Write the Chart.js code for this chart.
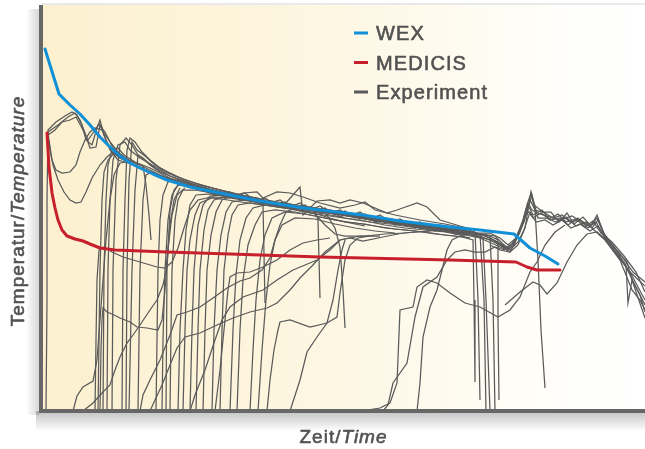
<!DOCTYPE html>
<html>
<head>
<meta charset="utf-8">
<script src="https://cdn.jsdelivr.net/npm/chart.js@4.4.1/dist/chart.umd.min.js"></script>
<style>
  html, body { margin: 0; padding: 0; background: #fff; }
  #wrap { width: 645px; height: 449px; position: relative; }
</style>
</head>
<body>
<div id="wrap"><canvas id="chart"></canvas></div>
<script>
// Time and temperature in arbitrary units: [time, temperature]
const wexCurve = [[3,362],[17,317],[28,306],[38,297],[48,286],[58,274],[68,264],[78,255],[88,248],[98,243],[111,237],[125,231],[148,224],[178,218],[198,214],[218,210],[255,204],[278,201],[321,196],[358,190],[408,184],[438,181],[472,177],[488,163],[503,155],[516,147]];

const medicisCurve = [[5,278],[6,261],[7,244],[10,218],[13,203],[16,191],[20,181],[25,175],[33,172],[41,170],[48,167],[58,163],[73,161],[125,159],[188,157],[278,154],[408,151],[474,149],[485,144],[495,141],[518,141]];

// Measured runs, one array per thermocouple record
const experimentRuns = [
  [[4,0],[5,111],[5,211],[6,281],[14,289],[23,295],[30,299],[35,296],[40,286],[44,271],[50,266],[55,283],[58,291],[62,276],[68,261],[76,251],[86,248],[98,243],[113,237],[128,231],[148,225],[168,221],[178,216],[188,219],[198,212],[208,214],[218,207],[228,210],[238,204],[248,207],[258,200],[268,204],[278,198],[288,201],[298,194],[308,198],[318,192],[328,195],[338,189],[348,192],[358,186],[368,189],[378,183],[388,186],[398,180],[408,183],[418,177],[428,180],[443,175],[455,169],[463,163],[470,167],[476,175],[482,189],[488,211],[493,201],[503,198],[511,193],[520,196],[528,189],[538,191],[548,185],[555,193],[561,179],[573,163],[583,146],[593,126],[603,106]],
  [[6,279],[16,286],[26,294],[33,298],[38,291],[43,278],[48,263],[54,264],[58,286],[64,271],[70,259],[78,253],[93,246],[108,239],[128,230],[158,221],[198,212],[238,205],[278,199],[318,193],[358,187],[398,182],[438,175],[458,167],[466,162],[473,171],[480,186],[486,206],[491,196],[500,201],[508,191],[518,193],[526,186],[536,193],[546,183],[554,189],[562,175],[576,156],[584,146],[586,108],[590,131],[598,116],[603,99]],
  [[6,276],[13,281],[20,289],[28,291],[34,294],[40,283],[46,271],[53,281],[57,287],[63,279],[71,263],[83,251],[98,244],[118,235],[143,226],[173,218],[208,211],[248,204],[288,198],[328,191],[368,185],[408,179],[438,173],[456,165],[465,161],[472,166],[478,181],[485,199],[490,216],[496,193],[504,193],[514,189],[524,194],[534,185],[544,189],[552,181],[563,171],[578,151],[590,121],[598,111],[603,101]],
  [[6,279],[8,261],[11,246],[16,231],[22,219],[28,211],[34,208],[39,209],[44,219],[50,233],[58,246],[65,254],[71,259],[78,253],[88,248],[103,241],[118,234],[138,227],[158,221],[188,213],[218,208],[248,203],[268,199],[288,193],[303,189],[323,187],[343,183],[363,181],[383,179],[403,176],[420,174],[431,171],[432,111],[433,29]],
  [[7,271],[10,251],[14,241],[20,238],[28,239],[34,246],[38,259],[43,271],[48,279],[53,283],[60,281],[68,269],[76,259],[86,251],[95,247],[101,245],[104,226],[107,196],[109,171]],
  [[56,0],[57,71],[58,141],[60,211],[62,239],[66,251],[73,259],[83,253],[98,246],[118,236],[143,227],[173,219],[208,212],[248,205],[288,199],[328,193],[368,187],[408,182],[438,177],[448,175],[451,111],[453,0]],
  [[61,0],[62,141],[64,211],[66,246],[70,261],[76,263],[82,256],[93,249],[108,243],[128,233],[153,225],[183,217],[218,210],[258,203],[298,197],[338,191],[378,185],[418,180],[438,177],[442,111],[444,0]],
  [[65,0],[66,141],[68,211],[71,251],[76,266],[83,269],[88,261],[98,253],[110,246],[123,239],[138,233],[158,226],[183,220],[213,213],[248,207],[288,201],[328,195],[368,189],[408,183],[433,179],[436,111],[438,11]],
  [[70,0],[71,141],[74,231],[78,266],[84,273],[90,266],[96,256],[103,251],[113,243],[128,235],[148,228],[168,222],[193,216],[223,210],[258,204],[273,201],[276,191],[278,113]],
  [[80,0],[81,141],[83,211],[85,261],[88,273],[93,269],[100,259],[108,251],[118,243],[133,235],[153,228],[178,221],[203,215],[216,213],[221,206],[223,108]],
  [[84,0],[85,141],[87,231],[90,269],[95,261],[103,255],[113,246],[126,239],[143,231],[163,225],[188,218],[218,212],[228,208],[238,211],[248,204],[258,208],[268,201],[278,205],[288,198],[298,201],[308,195],[318,199],[328,192],[338,196],[348,189],[358,192],[368,186],[378,189],[388,183],[398,186],[408,180],[418,183],[428,178],[448,178],[458,173],[466,166],[474,173],[481,191],[486,208],[490,201],[498,197],[508,194],[518,191],[530,195],[540,189],[550,183],[556,191],[564,173],[578,157],[591,139],[603,129]],
  [[87,0],[90,141],[93,221],[96,256],[101,253],[108,246],[118,239],[133,233],[153,226],[178,219],[208,213],[238,207],[268,203],[298,198],[313,196],[328,191],[348,189],[368,185],[388,181],[408,179],[428,176],[441,173],[444,111],[448,0]],
  [[96,0],[98,141],[101,211],[104,236],[110,239],[118,236],[130,231],[148,225],[173,219],[203,213],[233,208],[263,203],[293,199],[323,194],[353,190],[383,186],[413,182],[433,178],[453,175],[461,167],[468,161],[476,169],[483,183],[489,219],[492,206],[501,199],[509,199],[517,189],[525,198],[532,187],[541,194],[549,185],[555,196],[562,177],[574,161],[585,149],[590,131],[603,93]],
  [[448,166],[458,161],[468,159],[478,179],[485,206],[489,218],[493,201],[496,151],[499,81],[503,23]],
  [[114,0],[115,71],[116,141],[118,191],[121,216],[126,229],[136,231],[153,225],[173,220],[198,214],[226,209]],
  [[120,0],[121,71],[123,141],[126,191],[130,216],[136,226],[148,224],[163,221],[183,216],[208,211],[233,207],[258,203],[283,199],[293,183],[298,164],[301,121],[303,83]],
  [[124,0],[125,141],[128,201],[132,221],[138,228],[150,225],[168,220],[193,214],[203,218],[213,210],[223,213],[233,206],[243,209],[253,202],[263,206],[273,199],[283,203],[293,196],[303,200],[313,193],[323,197],[333,189],[343,193],[353,186],[363,190],[373,183],[383,187],[393,180],[403,184],[413,177],[428,180],[446,174],[458,168],[465,163],[472,168],[479,183],[485,201],[491,193],[499,198],[507,192],[516,197],[524,189],[534,192],[543,184],[551,190],[559,178],[570,169],[582,155],[594,139],[603,119]],
  [[128,0],[129,81],[130,141],[133,191],[136,211],[141,221],[153,221],[170,218],[198,213],[226,208],[258,203],[288,198],[318,193],[348,188],[378,184],[408,180],[430,177],[448,175],[456,171],[456,91],[457,11]],
  [[136,0],[138,81],[141,141],[144,181],[148,206],[154,216],[168,217],[186,214],[213,210],[243,205],[273,201],[303,196],[333,192],[363,187],[393,183],[423,178],[448,171],[461,164],[468,159],[476,166],[482,181],[488,199],[494,189],[503,191],[511,186],[520,191],[529,183],[538,187],[548,180],[556,185],[564,171],[576,155],[588,139],[603,111]],
  [[141,0],[143,81],[145,141],[148,171],[153,196],[158,208],[170,213],[186,211],[206,208],[230,205],[256,201],[273,197],[283,186],[293,177],[303,175],[323,175],[343,177],[363,178],[386,180],[406,181],[428,177]],
  [[148,0],[150,81],[152,141],[156,186],[161,206],[168,215],[180,216],[198,214],[220,210],[243,206],[263,204],[283,200],[308,196],[333,192],[356,189],[378,186],[403,183],[426,179]],
  [[154,0],[156,81],[158,141],[162,181],[166,201],[172,211],[183,214],[203,212],[228,208],[250,205],[273,202],[293,199],[313,195],[338,191],[363,188],[388,184],[413,181],[428,178]],
  [[161,0],[163,81],[165,141],[169,176],[174,199],[180,211],[190,215],[201,218],[215,219],[221,213],[235,219],[248,218],[261,214],[278,208],[298,203],[313,206],[323,209],[333,201],[353,196],[378,191],[403,187],[423,183]],
  [[170,0],[172,81],[175,141],[179,176],[184,199],[190,209],[203,211],[220,208],[243,207],[258,224],[261,196],[275,210],[288,211],[298,208],[308,211],[321,208],[345,198],[355,201],[375,208],[385,204],[398,191],[418,185],[433,181]],
  [[178,0],[180,81],[182,141],[186,176],[190,196],[196,206],[208,208],[228,205],[248,202],[268,198],[288,195],[308,192],[328,189],[348,187],[368,184],[388,182],[408,179],[426,176]],
  [[188,0],[191,81],[194,136],[198,171],[204,193],[211,203],[223,206],[243,203],[263,200],[283,197],[303,193],[323,190],[343,186],[363,183],[383,181],[403,179],[423,175]],
  [[195,0],[198,81],[201,131],[206,166],[213,186],[220,199],[233,201],[253,199],[273,195],[293,191],[313,188],[333,185],[353,182],[373,180],[393,177],[413,175],[428,173]],
  [[208,0],[211,61],[214,111],[218,151],[223,176],[230,193],[243,199],[263,197],[283,193],[303,189],[323,185]],
  [[216,0],[220,61],[224,111],[228,146],[233,171],[240,186],[253,193],[273,192],[293,187],[313,183],[333,180],[353,178]],
  [[53,0],[54,71],[55,131],[57,161],[62,164],[70,159],[81,154],[98,149],[115,144],[123,143],[130,149],[136,163],[142,183],[148,201],[156,211],[170,214],[188,213]],
  [[31,0],[35,15],[41,24],[51,30],[55,51],[58,91],[61,131],[64,171],[68,211],[72,236],[78,248],[86,249]],
  [[41,0],[51,8],[61,19],[68,26],[73,41],[78,54],[85,68],[91,76],[98,86],[108,101],[115,111],[121,126],[124,141],[127,171],[130,196],[135,216],[143,223]],
  [[58,0],[59,61],[60,91],[61,103],[65,99],[70,97],[78,93],[88,89],[95,84],[105,83],[116,81],[120,91],[123,121],[126,161],[128,186],[132,211],[138,223]],
  [[98,0],[101,16],[108,31],[118,51],[128,76],[135,96],[145,99],[158,104],[171,113],[185,123],[198,130],[208,133],[220,141],[228,153],[233,171],[238,186],[244,199],[253,203]],
  [[108,0],[113,11],[120,26],[128,46],[135,63],[143,74],[158,78],[175,86],[191,93],[208,99],[225,103],[235,108],[248,121],[258,133],[270,145],[283,159],[298,171],[318,175],[338,175]],
  [[148,0],[153,16],[163,41],[173,71],[180,91],[188,104],[201,114],[221,121],[235,131],[251,141],[275,151],[288,161],[298,171],[308,173],[321,170],[341,174],[361,178],[388,180]],
  [[173,0],[178,41],[183,91],[186,121],[188,134],[195,138],[208,139],[221,144],[235,151],[248,161],[261,168],[275,171],[288,173]],
  [[225,0],[228,31],[232,61],[236,81],[238,89],[248,91],[268,84],[285,88],[295,94],[298,118],[303,151],[308,166],[316,173],[328,175]],
  [[248,0],[258,31],[265,59],[275,74],[285,88],[291,111],[296,141],[300,161],[303,171]],
  [[325,1],[338,3],[348,8],[355,28],[358,101],[371,104],[375,124],[385,131],[395,128],[408,118],[423,108],[438,104],[456,94],[468,101],[478,114],[488,139],[495,149],[503,166],[513,179],[523,186]],
  [[341,0],[346,6],[351,28],[365,48],[373,94],[381,124],[395,134],[405,151],[413,159],[423,161],[433,159],[443,159],[453,164],[463,161]],
  [[375,0],[378,28],[381,74],[388,104],[395,121],[405,161],[410,171],[418,175],[428,173]],
  [[463,106],[478,119],[491,129],[498,126],[505,117],[515,128],[525,149],[535,166],[545,177],[555,179],[564,171],[576,155],[588,139],[603,125]]
];

const seriesNames = ['WEX', 'MEDICIS', 'Experiment'];
const seriesColors = ['#1190d8', '#c71f2c', '#5a5a5a'];
const xTitle = ['Zeit/', 'Time'];
const yTitle = ['Temperatur/', 'Temperature'];

const toPoints = run => run.map(([t, T]) => ({ x: t, y: T }));

const datasets = [
  { label: seriesNames[0], data: toPoints(wexCurve), borderColor: seriesColors[0], borderWidth: 3, borderJoinStyle: 'round', borderCapStyle: 'round' },
  { label: seriesNames[1], data: toPoints(medicisCurve), borderColor: seriesColors[1], borderWidth: 3, borderJoinStyle: 'round', borderCapStyle: 'round' },
  ...experimentRuns.map(run => ({
    label: seriesNames[2], data: toPoints(run), borderColor: seriesColors[2], borderWidth: 1.25
  }))
];

const FONT = '"Liberation Sans", Arial, Helvetica, sans-serif';
const TEXT_COLOR = '#525252';

// background, axis frame, legend and axis titles
const framePlugin = {
  id: 'frame',
  beforeDraw(chart) {
    const { ctx, chartArea: a, width, height } = chart;
    ctx.save();
    ctx.fillStyle = '#ffffff';
    ctx.fillRect(0, 0, width, height);
    // faint top edge
    ctx.fillStyle = '#e9e9e9';
    ctx.fillRect(a.left, a.top - 2, a.right - a.left, 2);
    // warm gradient plot background
    const g = ctx.createLinearGradient(a.left, 0, a.right, 0);
    g.addColorStop(0, 'rgb(252,240,207)');
    g.addColorStop(0.45, 'rgb(253,246,225)');
    g.addColorStop(0.85, 'rgb(255,254,250)');
    g.addColorStop(1, 'rgb(255,255,255)');
    ctx.fillStyle = g;
    ctx.fillRect(a.left, a.top, a.right - a.left, a.bottom - a.top);
    // soft shadows behind the axes
    const sb = ctx.createLinearGradient(0, a.bottom, 0, a.bottom + 20);
    sb.addColorStop(0, 'rgba(0,0,0,0.24)');
    sb.addColorStop(1, 'rgba(0,0,0,0)');
    ctx.fillStyle = sb;
    ctx.fillRect(a.left - 6, a.bottom, a.right - a.left + 6, 20);
    const sl = ctx.createLinearGradient(a.left - 3, 0, a.left - 16, 0);
    sl.addColorStop(0, 'rgba(0,0,0,0.16)');
    sl.addColorStop(1, 'rgba(0,0,0,0)');
    ctx.fillStyle = sl;
    ctx.fillRect(a.left - 16, a.top + 4, 13, a.bottom - a.top);
    ctx.restore();
  },
  afterDatasetsDraw(chart) {
    const { ctx, chartArea: a } = chart;
    ctx.save();
    ctx.fillStyle = '#676767';
    ctx.fillRect(a.left - 3, a.top, 4, a.bottom - a.top + 2);
    ctx.fillRect(a.left - 3, a.bottom - 2, a.right - a.left + 3, 4);
    ctx.restore();
  },
  afterDraw(chart) {
    const { ctx, chartArea: a } = chart;
    const paintText = (txt, x, y) => {
      ctx.fillText(txt, x, y);
      ctx.strokeText(txt, x, y);
    };
    ctx.save();
    ctx.fillStyle = TEXT_COLOR;
    ctx.strokeStyle = TEXT_COLOR;
    ctx.lineWidth = 0.6;
    ctx.lineJoin = 'round';
    // legend
    ctx.font = '20px ' + FONT;
    ctx.letterSpacing = '1.1px';
    ctx.textBaseline = 'alphabetic';
    seriesNames.forEach((name, i) => {
      const cy = 33 + i * 29.5;
      ctx.save();
      ctx.strokeStyle = seriesColors[i];
      ctx.lineWidth = 3;
      ctx.beginPath();
      ctx.moveTo(354, cy);
      ctx.lineTo(368, cy);
      ctx.stroke();
      ctx.restore();
      paintText(name, 376, cy + 7);
    });
    // axis titles with italic English part
    const drawTitle = (parts, cx, baseY) => {
      ctx.font = '19px ' + FONT;
      ctx.letterSpacing = '1px';
      const w1 = ctx.measureText(parts[0]).width;
      ctx.font = 'italic 19px ' + FONT;
      const w2 = ctx.measureText(parts[1]).width;
      const x0 = cx - (w1 + w2) / 2;
      ctx.font = '19px ' + FONT;
      paintText(parts[0], x0, baseY);
      ctx.font = 'italic 19px ' + FONT;
      paintText(parts[1], x0 + w1, baseY);
    };
    drawTitle(xTitle, (a.left + a.right) / 2, 443);
    ctx.save();
    ctx.translate(24, (a.top + a.bottom) / 2 + 3);
    ctx.rotate(-Math.PI / 2);
    drawTitle(yTitle, 0, 0);
    ctx.restore();
    ctx.restore();
  }
};

new Chart(document.getElementById('chart'), {
  type: 'line',
  data: { datasets },
  options: {
    responsive: true,
    maintainAspectRatio: false,
    animation: false,
    parsing: false,
    normalized: true,
    events: [],
    layout: { padding: { left: 42, right: 0, top: 5, bottom: 38 } },
    elements: { point: { radius: 0 }, line: { tension: 0, fill: false } },
    scales: {
      x: { type: 'linear', min: 0, max: 603, display: false },
      y: { type: 'linear', min: 0, max: 406, display: false }
    },
    plugins: { legend: { display: false }, tooltip: { enabled: false } }
  },
  plugins: [framePlugin]
});
</script>
</body>
</html>
